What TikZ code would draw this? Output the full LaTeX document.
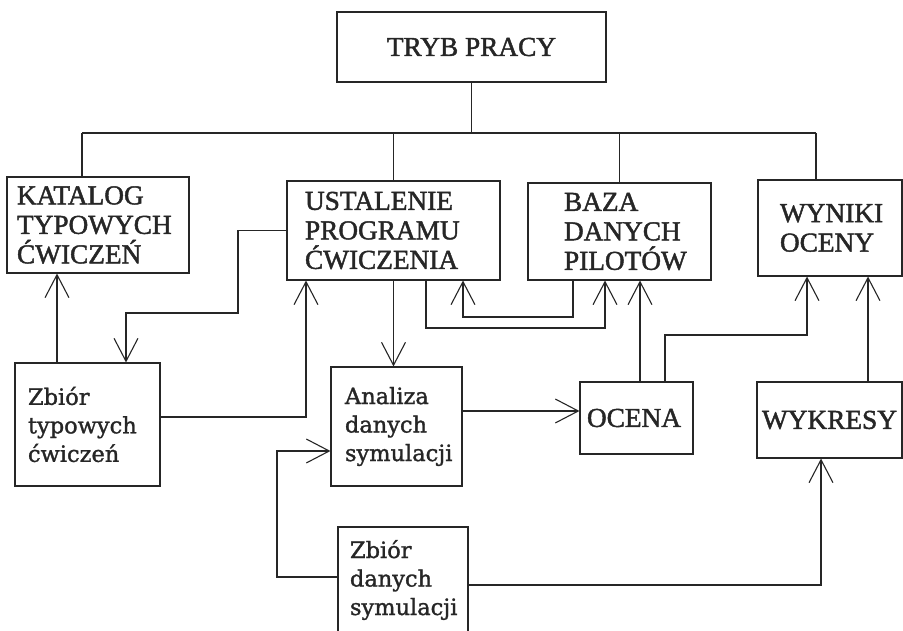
\documentclass[tikz,border=0pt]{standalone}
\usepackage{fontspec}
\setmainfont{Liberation Serif}[BoldFont={Liberation Serif}, BoldFeatures={FakeBold=1.6}]
\newfontfamily\lowfont{DejaVu Serif}[BoldFont={DejaVu Serif}, BoldFeatures={FakeBold=1.3}]
\usetikzlibrary{arrows.meta}
\begin{document}
\begin{tikzpicture}[x=1pt,y=-1pt,
  line width=1.1pt, draw=black!85,
  upbox/.style={draw, rectangle, align=left, inner ysep=0pt, text=black!85,
    font=\bfseries\fontsize{27.3}{29.5}\selectfont},
  lowbox/.style={draw, rectangle, align=left, inner ysep=0pt, text=black!85,
    font=\lowfont\bfseries\fontsize{22.5}{28.5}\selectfont},
  arr/.style={-{Straight Barb[length=23pt,width=24pt]}}]
\useasboundingbox[fill=white] (0,0) rectangle (903,631);

% boxes
\node[upbox, minimum width=269pt, minimum height=70pt, align=center] (tryb) at (471.5,47) {TRYB PRACY};
\node[upbox, text width=162pt, inner xsep=10pt, minimum height=96pt] (kat) at (98,225) {KATALOG\\TYPOWYCH\\ĆWICZEŃ};
\node[upbox, text width=177pt, inner xsep=18pt, minimum height=99pt] (ust) at (393.5,230.5) {USTALENIE\\PROGRAMU\\ĆWICZENIA};
\node[upbox, text width=111pt, inner xsep=36pt, minimum height=97pt] (baza) at (619.5,231.5) {BAZA\\DANYCH\\PILOTÓW};
\node[upbox, text width=100pt, inner xsep=22pt, minimum height=96pt] (wyn) at (830,228) {WYNIKI\\OCENY};
\node[lowbox, text width=119pt, inner xsep=13pt, minimum height=123pt] (zbt) at (87.5,424.5) {Zbiór\\typowych\\ćwiczeń};
\node[lowbox, text width=103pt, inner xsep=14pt, minimum height=119pt] (ana) at (396.5,426.5) {Analiza\\danych\\symulacji};
\node[upbox, text width=99pt, inner xsep=7pt, minimum height=72pt] (oce) at (636.5,418) {OCENA};
\node[upbox, text width=135pt, inner xsep=5pt, minimum height=76pt] (wyk) at (829.5,420) {WYKRESY};
\node[lowbox, text width=106pt, inner xsep=12pt, minimum height=106pt] (zbd) at (403,580) {Zbiór\\danych\\symulacji};

% bend points
\coordinate (busL) at (82,133);
\coordinate (busR) at (816,133);
\coordinate (xk) at (57,0);
\coordinate (c1) at (238,313);
\coordinate (c2) at (126,313);
\coordinate (c3) at (306,417);
\coordinate (c5) at (426,328);
\coordinate (c6) at (605,328);
\coordinate (c7) at (573,317);
\coordinate (c8) at (463,317);
\coordinate (c9) at (640,0);
\coordinate (c10) at (665,335);
\coordinate (c11) at (807,335);
\coordinate (c12) at (868,0);
\coordinate (c13) at (0,411);
\coordinate (c14) at (277,577);
\coordinate (c15) at (277,451);
\coordinate (c16) at (821,585);

% tree
\draw (tryb.south) -- (tryb.south |- busL);
\draw (busL) -- (busR);
\draw (busL) -- (kat.north -| busL);
\draw (ust.north) -- (ust.north |- busL);
\draw (baza.north) -- (baza.north |- busL);
\draw (busR) -- (wyn.north -| busR);

% arrows
\draw[arr] (zbt.north -| xk) -- (kat.south -| xk);
\draw[arr] (ust.west) -| (c1) -- (c2) -- (zbt.north -| c2);
\draw[arr] (zbt.east |- c3) -- (c3) -- (ust.south -| c3);
\draw[arr] (ust.south) -- (ust.south |- ana.north);
\draw[arr] (ust.south -| c5) -- (c5) -- (c6) -- (baza.south -| c6);
\draw[arr] (baza.south -| c7) -- (c7) -- (c8) -- (ust.south -| c8);
\draw[arr] (oce.north -| c9) -- (baza.south -| c9);
\draw[arr] (oce.north -| c10) -- (c10) -- (c11) -- (wyn.south -| c11);
\draw[arr] (wyk.north -| c12) -- (wyn.south -| c12);
\draw[arr] (ana.east |- c13) -- (oce.west |- c13);
\draw[arr] (zbd.west |- c14) -- (c14) -- (c15) -- (ana.west |- c15);
\draw[arr] (zbd.east |- c16) -- (c16) -- (wyk.south -| c16);
\end{tikzpicture}
\end{document}
